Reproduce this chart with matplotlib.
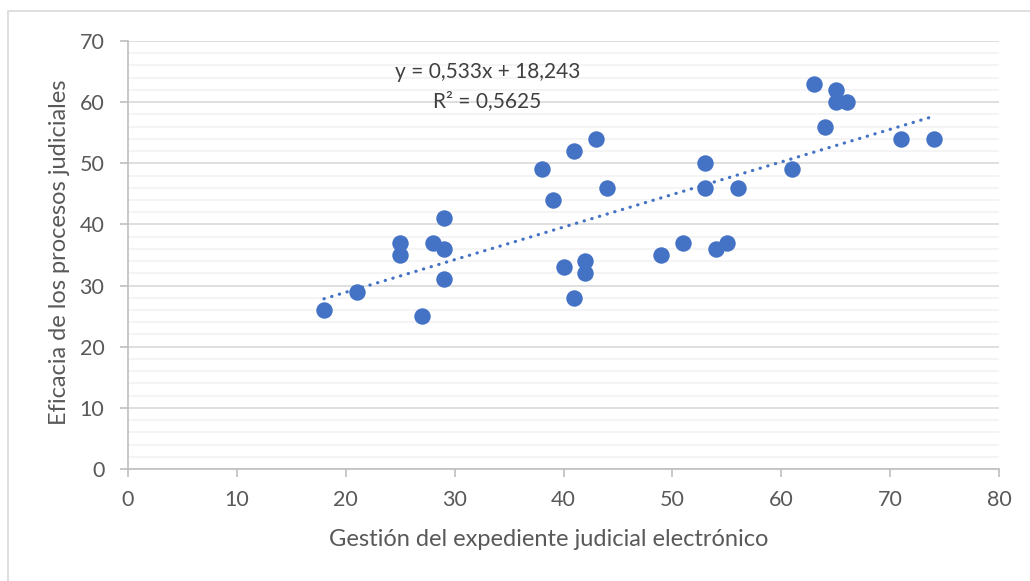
import matplotlib.pyplot as plt
from matplotlib.patches import Rectangle
from matplotlib.ticker import MultipleLocator

# valores
gestion = [18, 21, 25, 25, 27, 28, 29, 29, 29, 38, 39, 40, 41, 41, 42, 42, 43, 44,
           49, 51, 53, 53, 54, 55, 56, 61, 63, 64, 65, 65, 66, 71, 74]
eficacia = [26, 29, 37, 35, 25, 37, 41, 36, 31, 49, 44, 33, 52, 28, 34, 32, 54, 46,
            35, 37, 50, 46, 36, 37, 46, 49, 63, 56, 62, 60, 60, 54, 54]

# linea de tendencia (segun la etiqueta del grafico)
pendiente = 0.533
intercepto = 18.243
eq_text = "y = 0,533x + 18,243"
r2_text = "R² = 0,5625"

xlabel = "Gestión del expediente judicial electrónico"
ylabel = "Eficacia de los procesos judiciales"

plt.rcParams['font.family'] = ['Lato', 'DejaVu Sans']
gris = '#595959'
azul = '#4472C4'

fig = plt.figure(figsize=(10.3, 5.81), dpi=100)
ax = fig.add_axes([128 / 1030, 1 - 469 / 581, (999 - 128) / 1030, (469 - 41) / 581])

# borde del area del grafico
fig.patches.append(Rectangle((8 / 1030, -0.1), 1.2, 1 - 11 / 581 + 0.1,
                             transform=fig.transFigure, fill=False,
                             edgecolor='#D9D9D9', linewidth=1.2))

ax.scatter(gestion, eficacia, s=140, color=azul, zorder=3, linewidths=0)

x0, x1 = min(gestion), max(gestion)
ax.plot([x0, x1], [pendiente * x0 + intercepto, pendiente * x1 + intercepto],
        color=azul, linewidth=2.3, linestyle=(0, (0.1, 2.4)),
        dash_capstyle='round', zorder=2)

ax.text(33, 64.9, eq_text, ha='center', va='center', fontsize=15, color='#404040')
ax.text(33, 60.2, r2_text, ha='center', va='center', fontsize=15, color='#404040')

ax.set_xlim(0, 80)
ax.set_ylim(0, 70)
ax.xaxis.set_major_locator(MultipleLocator(10))
ax.yaxis.set_major_locator(MultipleLocator(10))
ax.yaxis.set_minor_locator(MultipleLocator(2))

ax.grid(which='major', axis='y', color='#D9D9D9', linewidth=1.2, zorder=0)
ax.grid(which='minor', axis='y', color='#F2F2F2', linewidth=1.2, zorder=0)
ax.set_axisbelow(True)

for s in ['top', 'right']:
    ax.spines[s].set_visible(False)
for s in ['left', 'bottom']:
    ax.spines[s].set_color('#BFBFBF')
    ax.spines[s].set_linewidth(1.2)

ax.tick_params(which='major', length=6, width=1.2, color='#BFBFBF',
               labelsize=15.5, labelcolor=gris)
ax.tick_params(axis='x', pad=9)
ax.tick_params(axis='y', pad=11)
ax.tick_params(which='minor', length=0)

fig.text(549 / 1030, 1 - 540 / 581, xlabel, ha='center', va='center',
         fontsize=17, color=gris)
fig.text(60 / 1030, 1 - 252 / 581, ylabel, ha='center', va='center',
         rotation=90, fontsize=17, color=gris)

fig.savefig('out.png', dpi=100)
